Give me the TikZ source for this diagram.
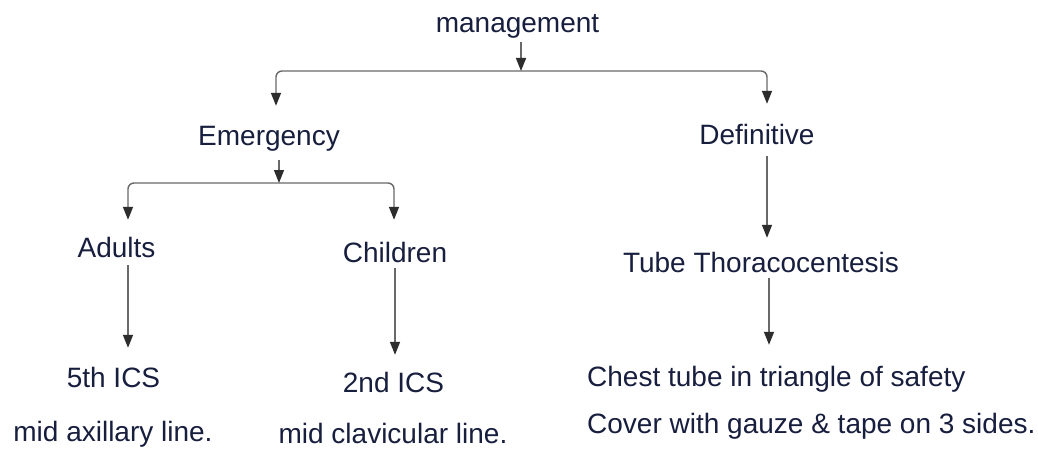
\documentclass[tikz,border=0pt]{standalone}
\usepackage{fontspec}
\setmainfont{Liberation Sans}
\usetikzlibrary{arrows.meta}

\definecolor{ink}{RGB}{24,30,62}
\definecolor{wire}{RGB}{105,105,105}
\definecolor{tipc}{RGB}{45,45,45}

\tikzset{
  lbl/.style={font=\fontsize{28}{30}\selectfont, text=ink, inner sep=0pt,
              text height=20pt, text depth=0pt, anchor=base},
  conn/.style={draw=wire, line width=1.4pt},
  arr/.style={conn, -{Triangle[length=13pt,width=10pt,color=tipc]}},
  branch/.style={arr, rounded corners=6pt},
}

\begin{document}
\begin{tikzpicture}[x=1pt,y=-1pt]
  % page frame
  \fill[white] (0,0) rectangle (1038,452);
  \useasboundingbox (0,0) rectangle (1038,452);

  % labels (placed on their baselines)
  \node[lbl] (mgmt)   at (517.5,33)  {management};
  \node[lbl] (emerg)  at (269,145)   {Emergency};
  \node[lbl] (defin)  at (757,144)   {Definitive};
  \node[lbl] (adults) at (116.5,257) {Adults};
  \node[lbl] (child)  at (395,262)   {Children};
  \node[lbl] (ics5)   at (113.5,387) {5th ICS};
  \node[lbl] (axil)   at (113,441)   {mid axillary line.};
  \node[lbl] (ics2)   at (393.5,392) {2nd ICS};
  \node[lbl] (clav)   at (393,443)   {mid clavicular line.};
  \node[lbl] (tube)   at (761,272)   {Tube Thoracocentesis};
  \node[lbl, anchor=base west] (chest) at (587,386) {Chest tube in triangle of safety};
  \node[lbl, anchor=base west] (cover) at (587,433) {Cover with gauze \& tape on 3 sides.};

  % junction points of the two branch bars
  \coordinate (bar)  at (521,71);
  \coordinate (bar2) at (279,183);

  % management -> emergency / definitive
  \draw[arr]    ([xshift=3.5pt,yshift=-9pt]mgmt.south) -- (bar);
  \draw[branch] (bar) -| ([xshift=7pt,yshift=19pt]emerg.north);
  \draw[branch] (bar) -| ([xshift=10pt,yshift=20pt]defin.north);

  % emergency -> adults / children
  \draw[arr]    ([xshift=10pt,yshift=-15pt]emerg.south) -- (bar2);
  \draw[branch] (bar2) -| ([xshift=11.5pt,yshift=17pt]adults.north);
  \draw[branch] (bar2) -| ([xshift=-1pt,yshift=22pt]child.north);

  % emergency sites
  \draw[arr] ([xshift=11.5pt,yshift=-8pt]adults.south) -- ([xshift=14.5pt,yshift=19pt]ics5.north);
  \draw[arr] ([yshift=-6pt]child.south) -- ([xshift=1.5pt,yshift=17pt]ics2.north);

  % definitive management
  \draw[arr] ([xshift=10pt,yshift=-12pt]defin.south) -- ([xshift=6pt,yshift=14pt]tube.north);
  \draw[arr] ([xshift=8pt,yshift=-6pt]tube.south) -- ([xshift=182pt,yshift=21pt]chest.north west);
\end{tikzpicture}
\end{document}
